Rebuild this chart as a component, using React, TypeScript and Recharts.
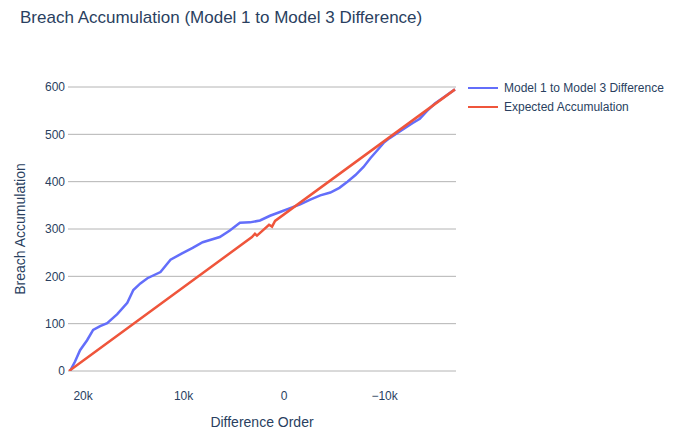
import React from "react";
import { LineChart, Line, XAxis, YAxis, CartesianGrid, Legend, Label } from "recharts";

const blueX = [21300, 20800, 20300, 19600, 19000, 18300, 17600, 16600, 15600, 15000, 14300, 13600, 12300, 11300, 10200, 9100, 8100, 6400, 5400, 4400, 3400, 2400, 1400, 400, -600, -1600, -2600, -3600, -4600, -5500, -6300, -7100, -7900, -8600, -9300, -9900, -10500, -11200, -12000, -12800, -13500, -14200, -15000, -16000, -17000];
const blueY = [0, 20, 44, 65, 87, 95, 101, 120, 144, 171, 185, 196, 209, 235, 248, 260, 272, 283, 297, 313, 314, 318, 328, 336, 344, 352, 362, 371, 377, 387, 400, 414, 431, 450, 467, 482, 492, 502, 513, 524, 533, 549, 565, 580, 595];

const redX = [21400, 3200, 2900, 2700, 1500, 1200, 900, -17000];
const redY = [0, 283, 290, 286, 309, 305, 317, 595];

const xTicks = [20000, 10000, 0, -10000];
const yTicks = [0, 100, 200, 300, 400, 500, 600];

const seriesNames = ["Model 1 to Model 3 Difference", "Expected Accumulation"];
const seriesColors = ["#636efa", "#EF553B"];

const blueData = blueX.map((x, i) => ({ x, y: blueY[i] }));
const redData = redX.map((x, i) => ({ x, y: redY[i] }));

const FONT = '"Liberation Sans", Arial, sans-serif';
const TXT = "#2a3f5f";

const fmtX = (v: number) => {
  if (v === 0) return "0";
  const s = Math.abs(v) / 1000 + "k";
  return v < 0 ? "\u2212" + s : s;
};

const LegendContent = () => (
  <div style={{ fontFamily: FONT, fontSize: 12, color: TXT }}>
    {seriesNames.map((n, i) => (
      <div key={n} style={{ display: "flex", alignItems: "center", height: 19 }}>
        <svg width={36} height={10}>
          <line x1={0} y1={5} x2={30} y2={5} stroke={seriesColors[i]} strokeWidth={2} />
        </svg>
        <span>{n}</span>
      </div>
    ))}
  </div>
);

export default function App() {
  return (
    <div style={{ position: "absolute", left: 0, top: 0, width: 673, height: 430, background: "#fff" }}>
      <div style={{ position: "absolute", left: 20, top: 8, fontFamily: FONT, fontSize: 17, color: TXT, whiteSpace: "nowrap" }}>
        Breach Accumulation (Model 1 to Model 3 Difference)
      </div>
      <LineChart width={673} height={430} margin={{ top: 87, right: 217, bottom: 0, left: 0 }}>
        <CartesianGrid vertical={false} stroke="#b4b4b4" strokeWidth={1} />
        <XAxis
          dataKey="x"
          type="number"
          reversed
          domain={[-17100, 21500]}
          ticks={xTicks}
          tickFormatter={fmtX}
          allowDataOverflow
          axisLine={false}
          tickLine={false}
          tickSize={0}
          tickMargin={20}
          height={59}
          tick={{ fill: TXT, fontSize: 12, fontFamily: FONT }}
        >
          <Label
            content={(p: any) => {
              const vb = p.viewBox;
              return (
                <text x={vb.x + vb.width / 2} y={vb.y + vb.height - 3} textAnchor="middle" fill={TXT} fontSize={14} fontFamily={FONT}>
                  Difference Order
                </text>
              );
            }}
          />
        </XAxis>
        <YAxis
          dataKey="y"
          type="number"
          domain={[0, 600]}
          ticks={yTicks}
          allowDataOverflow
          axisLine={false}
          tickLine={false}
          tickSize={0}
          tickMargin={3}
          width={68}
          tick={{ fill: TXT, fontSize: 12, fontFamily: FONT }}
        >
          <Label
            content={(p: any) => {
              const vb = p.viewBox;
              const cx = vb.x + 25;
              const cy = vb.y + vb.height / 2;
              return (
                <text x={cx} y={cy} transform={`rotate(-90 ${cx} ${cy})`} textAnchor="middle" fill={TXT} fontSize={14} fontFamily={FONT}>
                  Breach Accumulation
                </text>
              );
            }}
          />
        </YAxis>
        <Legend
          layout="vertical"
          verticalAlign="middle"
          align="center"
          content={LegendContent}
          wrapperStyle={{ position: "absolute", left: 468, top: 78, width: 205 }}
        />
        <Line data={blueData} dataKey="y" name={seriesNames[0]} stroke={seriesColors[0]} strokeWidth={2.5} dot={false} isAnimationActive={false} type="linear" />
        <Line data={redData} dataKey="y" name={seriesNames[1]} stroke={seriesColors[1]} strokeWidth={2.5} dot={false} isAnimationActive={false} type="linear" />
      </LineChart>
    </div>
  );
}
